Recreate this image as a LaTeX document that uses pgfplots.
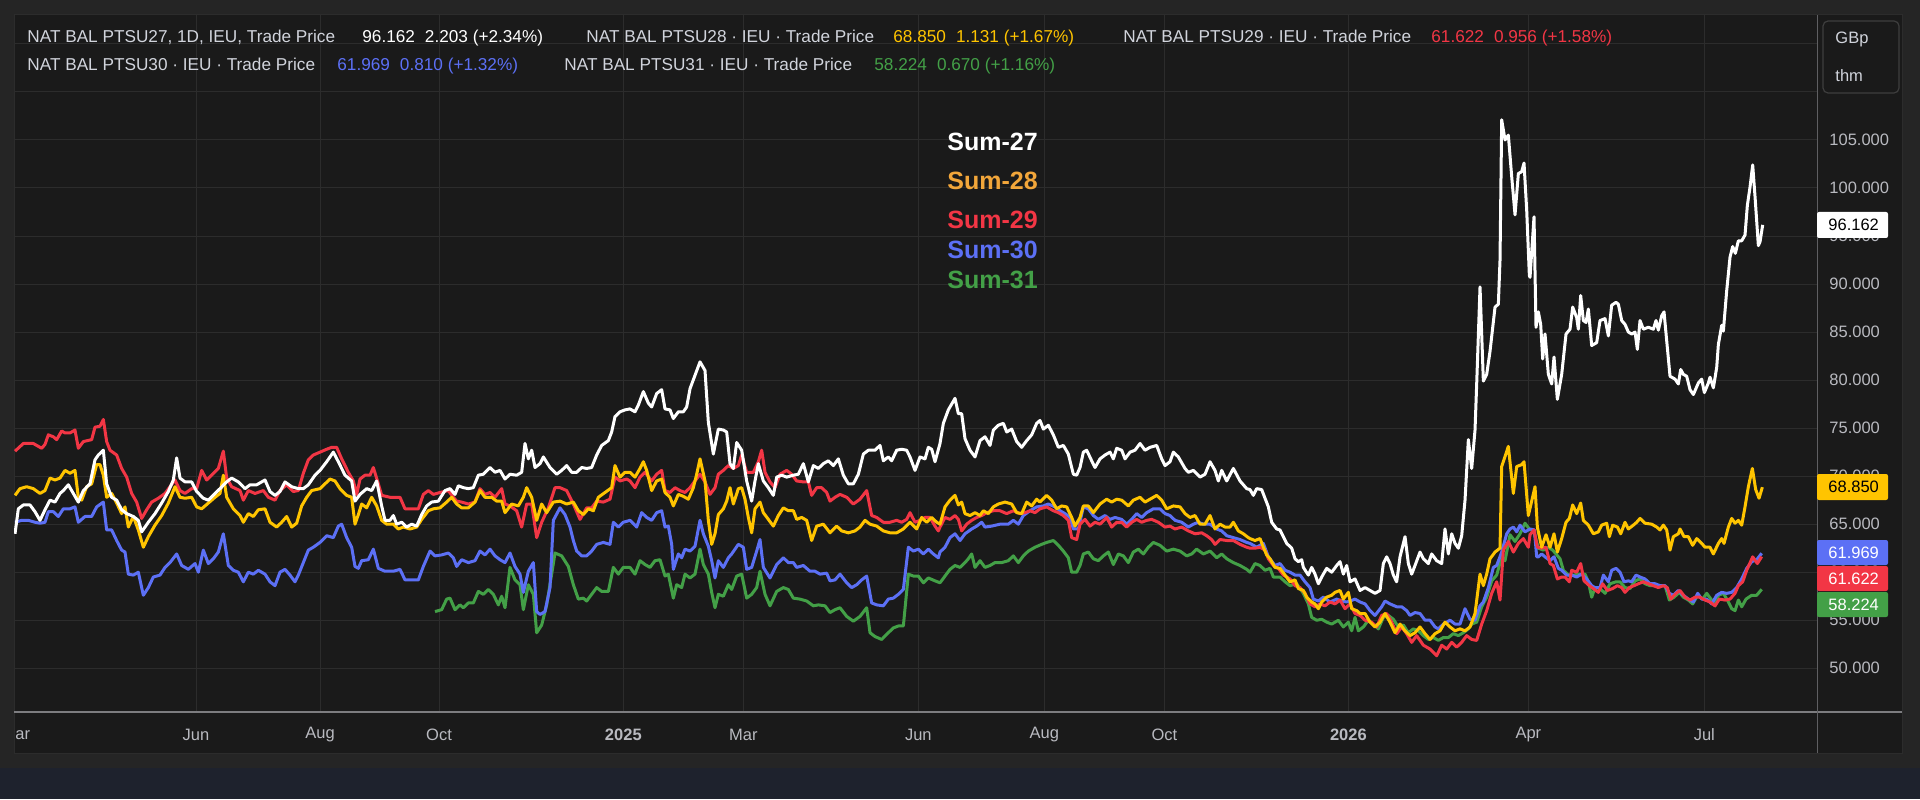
\documentclass[border=0pt]{standalone}
\usepackage{fontspec}
\setmainfont{Liberation Sans}
\usepackage{pgfplots}
\pgfplotsset{compat=1.18}
\definecolor{frame}{RGB}{37,37,37}
\definecolor{panebg}{RGB}{26,26,26}
\definecolor{gridc}{RGB}{44,44,44}
\definecolor{navy}{RGB}{30,34,45}
\definecolor{axisline}{RGB}{125,125,128}
\definecolor{axisv}{RGB}{95,95,98}
\definecolor{ticktext}{RGB}{185,186,192}
\definecolor{hdrtext}{RGB}{209,212,220}
\definecolor{cYellow}{RGB}{255,196,0}
\definecolor{cRed}{RGB}{242,54,69}
\definecolor{cBlue}{RGB}{92,112,245}
\definecolor{cGreen}{RGB}{67,160,71}
\definecolor{cOrange}{RGB}{242,166,58}
\newcommand{\tickfont}{\fontsize{8.25pt}{10pt}\selectfont}
\newcommand{\hdrfont}{\fontsize{8.6pt}{10pt}\selectfont}
\begin{document}
\begin{tikzpicture}
\begin{scope}[x=0.5pt,y=-0.5pt,yshift=399.5pt]
\fill[frame] (0,0) rectangle (1920,799);
\fill[navy] (0,768) rectangle (1920,799);
\fill[panebg] (14,15) rectangle (1902,753);
\draw[gridc, line width=0.5pt] (14,15) rectangle (1902,753);
\end{scope}
\begin{axis}[at={(7pt,44pt)}, anchor=south west, scale only axis,
  width=901.5pt, height=348pt,
  xmin=42, xmax=5451, ymin=45.55, ymax=118.01,
  axis line style={draw=none}, tick style={draw=none}, major tick length=0pt,
  xmajorgrids, ymajorgrids, grid style={gridc, line width=0.5pt},
  scaled x ticks=false, scaled y ticks=false,
  xtick={588,960,1317,1870,2230,2755,3133,3493,4045,4585,5113},
  xticklabels={Jun,Aug,Oct,\textbf{2025},Mar,Jun,Aug,Oct,\textbf{2026},Apr,Jul},
  ytick={50,55,...,115},
  yticklabels={50.000,55.000,60.000,65.000,70.000,75.000,80.000,85.000,90.000,95.000,100.000,105.000,{},{}},
  yticklabel pos=right,
  tick label style={font=\tickfont, text=ticktext},
  xticklabel style={anchor=center, yshift=-12pt},
  yticklabel style={anchor=west, inner sep=0pt, xshift=6pt},
  every axis plot/.append style={line width=1.5pt, line join=round, mark=none},
]
% Sum-31 green
\addplot[color=cGreen] coordinates {
(1305,55.9) (1325,56.1) (1340,57.2) (1350,57.3) (1365,56.1) (1380,56.6) (1390,56.3) (1405,56.8) (1420,56.8) (1435,58.0) (1450,57.7) (1465,58.2) (1480,57.7) (1495,56.6) (1505,57.5) (1515,56.3) (1530,60.5) (1545,59.2) (1560,58.7) (1570,56.1) (1585,58.7) (1600,57.7) (1610,53.7) (1625,54.5) (1640,56.6) (1655,59.8) (1665,62.0) (1685,61.7) (1705,60.6) (1720,58.7) (1735,57.2) (1750,57.3) (1760,57.0) (1775,57.7) (1790,58.4) (1805,58.0) (1825,58.0) (1840,60.5) (1855,59.8) (1870,60.5)
(1890,60.5) (1905,59.8) (1920,61.2) (1935,60.8) (1950,60.5) (1965,61.2) (1980,61.3) (1995,59.6) (2005,59.8) (2020,57.3) (2030,58.7) (2045,58.4) (2055,59.8) (2070,59.4) (2085,59.8) (2100,62.4) (2110,60.8) (2125,59.8) (2135,57.9) (2145,56.3) (2155,57.7) (2170,57.5) (2185,58.7) (2195,58.2) (2210,59.6) (2225,59.8) (2240,57.3) (2255,57.7) (2270,58.4) (2280,60.1) (2295,57.7) (2310,56.5) (2330,58.0) (2350,58.4) (2365,58.2) (2380,57.3) (2400,57.2) (2420,57.0) (2440,56.5) (2455,56.6) (2475,56.5) (2490,55.8) (2505,56.1) (2520,56.3) (2540,55.4) (2560,54.9) (2580,55.4) (2600,56.3) (2610,53.7) (2625,53.3) (2645,53.0) (2665,53.7) (2680,54.2) (2695,54.4) (2710,54.4) (2725,59.8) (2740,59.6) (2755,59.6) (2770,58.9) (2785,59.4) (2805,59.1)
(2820,58.9) (2835,59.6) (2850,60.3) (2865,60.7) (2880,60.5) (2895,61.0) (2905,61.4) (2915,61.9) (2925,60.5) (2940,61.2) (2955,60.5) (2970,60.7) (2985,61.0) (3005,61.0) (3025,61.2) (3040,61.7) (3055,61.0) (3070,61.7) (3085,62.2) (3105,62.6) (3125,62.9) (3140,63.1) (3160,63.3) (3175,62.8) (3190,62.2) (3205,61.5) (3215,60.0) (3230,60.0) (3240,60.7) (3250,61.9) (3265,62.1) (3280,61.4) (3295,61.2) (3310,61.7) (3325,62.1) (3340,60.8) (3355,61.9) (3370,61.7) (3385,61.0) (3400,62.1) (3415,62.4) (3430,61.9) (3445,62.6) (3460,63.1) (3480,62.8) (3500,62.2) (3520,62.4) (3540,62.2) (3560,61.7) (3575,61.9) (3590,62.4) (3610,61.9) (3630,62.2) (3650,61.5) (3665,61.9) (3680,61.4) (3700,61.0) (3720,60.7) (3740,60.3)
(3750,60.0) (3765,60.9) (3780,60.7) (3795,60.2) (3810,60.4) (3820,59.5) (3840,59.5) (3855,59.0) (3870,58.6) (3890,58.8) (3910,57.8) (3925,56.7) (3935,55.3) (3950,55.0) (3965,55.1) (3980,54.8) (3995,54.6) (4015,55.0) (4030,54.3) (4045,54.8) (4055,53.9) (4065,55.3) (4075,53.9) (4090,54.3) (4105,55.0) (4120,54.6) (4135,54.1) (4150,55.3) (4165,55.5) (4180,55.1) (4195,54.3) (4210,54.5) (4225,53.7) (4240,54.1) (4255,53.9) (4270,53.4) (4285,53.0) (4300,53.2) (4315,52.9) (4330,53.2) (4345,53.2) (4360,53.6) (4375,53.4) (4390,53.7) (4405,54.1) (4415,54.6) (4430,54.8) (4445,56.4) (4460,57.4) (4475,59.1) (4490,59.7) (4505,61.6) (4515,61.2) (4530,63.9) (4545,63.2) (4560,64.0) (4575,65.1) (4590,64.4)
(4600,64.4) (4615,62.5) (4630,62.3) (4645,62.6) (4658,62.3) (4668,61.9) (4680,61.4) (4690,60.2) (4705,59.7) (4720,59.7) (4738,59.8) (4755,59.8) (4765,59.0) (4775,57.4) (4785,58.4) (4800,58.3) (4815,57.8) (4830,58.8) (4848,59.0) (4860,59.0) (4875,58.4) (4890,58.3) (4905,59.1) (4920,59.3) (4935,58.8) (4950,58.6) (4965,58.6) (4980,58.6) (4995,58.6) (5008,57.1) (5022,57.4) (5038,57.9) (5050,57.4) (5065,57.1) (5078,56.7) (5093,57.6) (5108,57.2) (5120,57.8) (5135,57.1) (5145,56.5) (5155,57.6) (5170,57.8) (5182,57.1) (5195,56.2) (5205,56.0) (5215,57.1) (5225,56.4) (5238,57.2) (5255,57.6) (5270,57.6) (5285,58.22)
};
% Sum-30 blue
\addplot[color=cBlue] coordinates {
(45,65.2) (65,65.4) (85,65.4) (105,65.2) (120,65.1) (135,65.2) (145,66.3) (160,66.3) (175,65.8) (190,66.6) (210,66.6) (225,66.8) (235,65.2) (255,65.8) (275,65.8) (290,66.8) (310,67.3) (320,64.4) (335,64.4) (350,63.3) (365,62.3) (375,62.1) (385,59.8) (400,59.7) (415,60.0) (430,57.6) (445,58.4) (460,59.5) (480,59.7) (495,60.5) (510,61.0) (530,61.9) (545,60.7) (565,60.3) (585,60.9) (595,60.0) (610,62.3) (625,60.9) (640,61.4) (655,62.1) (670,64.0) (685,60.7) (700,60.2) (715,60.0) (730,59.0) (745,60.0) (760,59.8) (775,60.2) (795,59.8) (810,59.0) (825,58.6) (840,60.0) (855,60.3) (870,59.7) (885,59.0) (895,59.7) (910,61.0) (925,62.3) (940,62.6)
(960,63.1) (980,63.8) (1000,63.6) (1015,64.8) (1025,65.0) (1040,63.6) (1055,62.6) (1065,60.6) (1075,60.4) (1085,61.2) (1105,61.3) (1120,62.4) (1135,60.4) (1155,60.1) (1180,60.1) (1200,60.3) (1215,59.2) (1235,59.2) (1255,59.2) (1270,60.6) (1290,62.2) (1305,61.7) (1325,61.8) (1345,62.0) (1360,61.5) (1370,60.6) (1385,61.3) (1405,61.0) (1425,61.2) (1440,62.2) (1455,61.8) (1470,62.4) (1485,61.7) (1500,61.3) (1515,61.0) (1530,62.0) (1545,60.6) (1560,59.8) (1570,57.9) (1585,60.1) (1600,61.0) (1610,55.9) (1620,55.6) (1635,55.9) (1650,58.4) (1660,65.4) (1680,66.7) (1695,66.0) (1710,64.7) (1720,63.3) (1730,62.2) (1745,61.7) (1760,61.7) (1775,62.2) (1790,62.9) (1810,63.1) (1830,62.9) (1840,65.2) (1855,64.7) (1870,65.2)
(1890,65.4) (1910,64.7) (1925,66.2) (1940,65.7) (1955,65.4) (1970,66.2) (1985,66.4) (1995,64.7) (2005,64.8) (2015,62.9) (2020,60.3) (2035,61.9) (2045,61.5) (2055,62.4) (2070,62.2) (2085,62.7) (2100,65.4) (2110,64.0) (2125,62.7) (2135,61.2) (2145,59.4) (2155,61.2) (2170,60.5) (2185,61.5) (2195,61.9) (2215,62.9) (2230,62.6) (2240,60.3) (2255,60.5) (2270,62.2) (2280,63.4) (2290,60.5) (2310,59.4) (2330,60.8) (2350,61.5) (2365,61.0) (2380,61.0) (2390,60.5) (2410,60.7) (2430,60.1) (2445,60.1) (2460,59.8) (2480,59.9) (2490,59.1) (2505,59.2) (2520,59.8) (2540,58.9) (2555,58.4) (2570,58.7) (2585,59.2) (2600,59.6) (2615,56.8) (2630,56.6) (2650,56.5) (2665,57.2) (2680,57.3) (2695,57.7) (2710,58.2) (2725,62.6) (2740,62.2) (2755,62.4) (2770,61.9) (2785,62.4) (2800,61.9) (2815,61.5)
(2820,62.1) (2835,62.6) (2850,63.6) (2865,64.0) (2880,63.3) (2895,64.0) (2915,64.5) (2930,64.8) (2945,65.2) (2955,64.7) (2975,64.8) (3000,65.0) (3025,65.0) (3040,65.4) (3055,65.0) (3070,65.9) (3090,66.4) (3110,66.8) (3130,66.9) (3145,67.1) (3165,66.8) (3180,66.4) (3195,66.1) (3210,65.7) (3220,64.5) (3235,64.5) (3250,66.8) (3265,66.6) (3280,65.9) (3295,65.5) (3315,65.9) (3330,65.5) (3345,65.7) (3365,65.5) (3380,65.0) (3395,65.5) (3410,66.1) (3425,65.7) (3440,66.2) (3460,66.6) (3480,66.6) (3495,66.1) (3510,65.9) (3525,65.4) (3545,65.2) (3565,64.7) (3580,65.0) (3595,65.2) (3610,65.0) (3630,65.0) (3650,64.5) (3665,64.3) (3680,63.8) (3700,63.6) (3720,63.4) (3740,63.1)
(3750,63.0) (3770,62.6) (3790,63.0) (3805,61.6) (3825,60.7) (3840,60.9) (3855,60.2) (3870,60.0) (3885,59.7) (3900,59.7) (3915,59.0) (3930,58.4) (3940,57.2) (3955,57.0) (3970,57.4) (3990,56.9) (4010,57.2) (4025,57.0) (4040,56.9) (4050,57.0) (4065,57.2) (4080,56.9) (4095,56.7) (4110,56.0) (4125,55.5) (4145,56.4) (4155,57.0) (4170,56.7) (4190,56.4) (4205,56.4) (4220,56.0) (4230,55.5) (4245,55.8) (4260,55.7) (4275,55.0) (4290,55.0) (4305,54.3) (4315,54.1) (4330,54.6) (4350,55.0) (4365,54.6) (4380,54.6) (4395,56.2) (4410,55.1) (4425,55.0) (4440,56.5) (4450,56.9) (4465,58.4) (4480,60.5) (4490,60.7) (4505,62.1) (4520,64.0) (4530,64.5) (4540,64.7) (4550,64.2) (4560,64.9) (4575,64.2) (4590,64.5) (4603,64.4) (4610,61.6)
(4615,61.6) (4625,61.9) (4635,61.6) (4650,61.2) (4662,61.6) (4675,60.4) (4685,60.2) (4700,59.7) (4715,59.7) (4730,59.5) (4745,59.8) (4760,59.3) (4775,58.6) (4785,58.4) (4800,58.4) (4810,59.7) (4825,59.0) (4835,60.2) (4848,60.4) (4860,60.0) (4872,59.0) (4885,59.1) (4895,59.0) (4908,59.7) (4920,59.5) (4935,59.3) (4950,58.8) (4965,58.8) (4980,58.6) (4995,58.6) (5008,57.8) (5020,57.6) (5035,58.1) (5050,57.6) (5065,57.2) (5080,56.9) (5093,57.8) (5105,57.2) (5120,57.2) (5135,56.7) (5150,57.6) (5165,57.9) (5180,57.8) (5195,57.9) (5210,58.4) (5225,59.3) (5240,60.4) (5255,61.1) (5270,61.3) (5285,61.97)
};
% Sum-29 red
\addplot[color=cRed] coordinates {
(45,72.6) (70,73.4) (100,73.4) (125,72.9) (135,73.3) (145,74.3) (160,74.1) (170,73.8) (185,74.7) (195,74.5) (210,74.5) (225,74.8) (235,72.9) (250,73.6) (275,73.8) (285,75.1) (300,75.2) (310,75.9) (320,73.6) (330,72.7) (350,72.2) (365,70.8) (380,69.9) (395,68.2) (410,67.3) (425,65.6) (440,66.5) (455,67.3) (475,67.7) (495,68.2) (510,68.9) (525,69.6) (540,68.5) (555,68.2) (575,68.7) (590,68.7) (605,70.6) (620,69.6) (635,70.1) (655,70.8) (670,72.6) (680,69.8) (695,68.9) (720,68.5) (730,67.5) (745,68.5) (765,68.2) (790,68.5) (805,67.8) (825,67.5) (840,68.5) (860,69.1) (880,68.4) (895,68.5) (910,70.3) (925,71.7) (940,72.2)
(960,72.5) (980,72.8) (995,73.0) (1010,73.0) (1025,71.8) (1045,70.4) (1060,69.5) (1070,68.1) (1080,69.7) (1095,70.1) (1110,70.1) (1120,70.9) (1135,69.2) (1145,68.0) (1170,67.8) (1200,67.8) (1215,66.6) (1230,66.6) (1255,66.6) (1270,68.1) (1285,68.5) (1300,68.1) (1320,68.3) (1345,68.5) (1360,67.8) (1370,67.4) (1385,67.3) (1405,67.1) (1425,67.3) (1440,68.7) (1455,68.1) (1470,68.3) (1485,67.8) (1505,68.7) (1515,67.1) (1530,66.9) (1550,66.4) (1565,64.7) (1580,67.1) (1595,67.1) (1610,63.6) (1625,65.2) (1645,66.7) (1665,68.8) (1680,68.8) (1700,68.5) (1720,67.1) (1740,65.5) (1760,66.7) (1775,66.7) (1790,67.4) (1810,67.3) (1830,67.6) (1845,69.9) (1860,69.5) (1880,69.7)
(1890,69.5) (1905,68.8) (1920,69.9) (1935,70.4) (1955,69.5) (1970,70.2) (1985,70.6) (1995,68.5) (2010,68.3) (2025,68.8) (2040,68.5) (2055,68.3) (2070,68.8) (2085,69.5) (2100,70.2) (2115,69.4) (2130,68.1) (2145,68.8) (2155,70.2) (2170,70.6) (2185,71.1) (2200,70.8) (2215,71.1) (2225,72.2) (2240,70.4) (2260,70.4) (2275,71.5) (2285,72.7) (2295,70.4) (2310,69.4) (2325,68.8) (2340,70.2) (2360,70.6) (2375,70.2) (2390,69.5) (2410,69.4) (2425,69.4) (2435,68.0) (2450,68.8) (2465,68.8) (2480,68.3) (2490,67.4) (2505,67.8) (2520,68.1) (2540,67.8) (2560,67.1) (2580,67.6) (2600,68.5) (2615,65.9) (2630,65.7) (2650,65.2) (2670,65.2) (2690,65.4) (2705,65.2) (2720,65.5) (2730,66.2) (2745,65.2) (2760,65.4) (2775,65.7) (2790,65.7) (2805,64.8) (2815,64.3)
(2820,64.7) (2835,65.7) (2850,65.5) (2865,65.9) (2875,65.5) (2885,64.3) (2900,65.0) (2915,65.4) (2930,65.7) (2945,65.9) (2960,66.2) (2980,66.4) (3000,66.4) (3020,66.1) (3040,66.4) (3060,66.1) (3075,66.2) (3090,66.4) (3105,66.2) (3120,66.6) (3140,66.8) (3160,66.4) (3175,66.2) (3190,65.9) (3205,65.4) (3215,63.6) (3230,63.4) (3240,65.0) (3255,65.5) (3270,64.8) (3285,65.2) (3300,65.0) (3320,65.7) (3335,64.7) (3350,65.2) (3365,65.2) (3380,64.7) (3395,65.2) (3410,65.5) (3425,65.2) (3440,65.4) (3455,65.5) (3475,65.2) (3495,64.7) (3510,64.8) (3525,64.5) (3545,64.7) (3565,64.3) (3585,64.0) (3605,64.1) (3620,63.8) (3635,63.4) (3645,62.9) (3660,63.4) (3680,63.3) (3700,63.3) (3720,62.9) (3740,62.6)
(3750,62.5) (3765,62.5) (3780,62.6) (3795,62.3) (3805,61.4) (3820,60.7) (3835,60.4) (3850,59.7) (3870,59.3) (3885,58.6) (3900,58.4) (3915,57.8) (3930,56.7) (3945,56.4) (3960,56.7) (3975,56.5) (3990,56.9) (4005,56.7) (4020,57.1) (4035,56.2) (4050,56.7) (4065,55.7) (4080,55.5) (4095,55.0) (4115,54.8) (4130,54.3) (4145,55.5) (4160,55.7) (4175,54.8) (4190,53.6) (4205,54.3) (4220,53.6) (4235,52.7) (4250,53.4) (4270,52.4) (4290,52.0) (4310,51.3) (4325,52.4) (4340,52.0) (4355,52.7) (4370,52.2) (4385,52.7) (4400,53.4) (4415,53.0) (4430,52.9) (4445,54.6) (4460,56.0) (4475,57.8) (4490,59.0) (4500,57.1) (4510,62.3) (4525,63.2) (4540,62.1) (4555,63.0) (4570,63.5) (4585,62.6)
(4590,63.9) (4602,64.4) (4612,62.6) (4625,62.5) (4638,62.6) (4650,60.9) (4660,60.7) (4672,59.3) (4685,59.5) (4695,59.5) (4708,59.0) (4715,60.2) (4730,60.0) (4742,60.9) (4752,59.1) (4768,58.6) (4780,58.3) (4795,57.9) (4808,58.8) (4822,58.1) (4838,58.3) (4852,58.6) (4865,58.4) (4875,57.9) (4888,58.4) (4902,58.6) (4915,58.8) (4930,59.0) (4945,58.8) (4960,58.6) (4975,58.4) (4990,58.6) (5002,58.4) (5012,57.2) (5028,57.8) (5040,58.1) (5055,57.4) (5070,57.1) (5085,57.4) (5100,57.4) (5115,57.1) (5130,56.9) (5145,56.5) (5158,57.2) (5175,57.1) (5190,57.2) (5205,57.8) (5215,58.6) (5228,59.0) (5240,60.2) (5258,61.6) (5272,60.9) (5285,61.62)
};
% Sum-28 yellow
\addplot[color=cYellow] coordinates {
(45,68.0) (60,68.7) (80,68.9) (100,68.7) (120,68.2) (135,68.5) (150,69.8) (165,69.6) (180,69.8) (195,70.6) (210,70.3) (225,70.6) (235,67.8) (245,67.5) (260,68.9) (275,69.2) (290,71.2) (300,71.2) (310,70.1) (320,67.8) (335,68.2) (350,67.2) (365,66.1) (375,66.8) (385,64.7) (400,65.8) (415,64.4) (430,62.6) (445,63.7) (465,64.9) (485,65.9) (505,67.2) (525,68.9) (540,67.8) (555,67.7) (575,67.8) (590,66.8) (605,66.6) (625,67.2) (645,67.8) (660,68.2) (670,70.1) (680,67.8) (700,66.6) (720,65.9) (730,65.2) (745,66.1) (760,65.8) (775,66.5) (795,66.6) (810,65.2) (830,64.7) (845,65.2) (860,65.8) (875,64.7) (890,65.1) (905,66.9) (920,67.8) (935,68.5)
(960,68.7) (975,69.2) (990,69.7) (1005,69.5) (1020,68.7) (1040,68.0) (1055,67.8) (1065,65.0) (1075,66.0) (1085,67.1) (1100,66.7) (1115,67.8) (1130,66.9) (1145,65.4) (1160,65.0) (1180,65.0) (1195,64.5) (1210,64.7) (1230,64.5) (1250,64.7) (1265,65.5) (1285,66.4) (1300,66.6) (1320,66.7) (1340,67.3) (1355,67.8) (1370,67.1) (1385,66.7) (1405,66.7) (1425,67.3) (1440,68.5) (1455,67.8) (1475,67.8) (1490,67.4) (1505,67.4) (1515,66.2) (1535,67.1) (1555,66.9) (1570,67.8) (1580,68.8) (1595,67.8) (1610,65.4) (1625,67.1) (1640,66.2) (1660,67.3) (1680,67.4) (1700,67.1) (1720,67.3) (1735,66.4) (1750,66.0) (1765,66.6) (1780,66.4) (1795,67.8) (1815,68.3) (1835,68.8) (1845,71.1) (1860,69.9) (1875,70.4)
(1890,70.4) (1905,69.9) (1920,70.8) (1930,71.5) (1940,70.6) (1955,68.5) (1970,69.5) (1985,69.7) (1995,68.3) (2010,67.8) (2020,66.9) (2035,68.1) (2050,67.9) (2065,67.6) (2080,68.8) (2090,70.2) (2100,71.8) (2115,69.5) (2125,65.4) (2135,62.9) (2145,64.0) (2155,66.0) (2170,66.6) (2180,67.4) (2190,68.8) (2200,67.1) (2215,68.7) (2225,68.8) (2235,67.6) (2245,65.7) (2255,64.1) (2265,66.6) (2280,67.3) (2290,66.2) (2305,65.5) (2320,64.8) (2335,65.9) (2350,66.7) (2365,66.4) (2380,66.4) (2390,65.5) (2405,65.7) (2420,65.4) (2435,63.3) (2450,64.8) (2470,65.0) (2490,64.1) (2510,64.8) (2525,64.3) (2545,64.1) (2565,64.3) (2580,64.7) (2595,65.4) (2610,65.0) (2630,64.8) (2650,64.3) (2670,64.1) (2690,64.1) (2710,64.5) (2730,65.2) (2750,64.5) (2765,65.7) (2780,65.2) (2795,65.7) (2810,65.2)
(2820,65.0) (2835,66.8) (2850,67.5) (2865,68.0) (2875,67.0) (2885,67.3) (2895,66.1) (2910,65.9) (2925,66.2) (2940,65.9) (2950,66.4) (2965,66.1) (2980,66.8) (2995,67.1) (3015,67.3) (3035,67.1) (3050,66.2) (3065,66.1) (3080,67.3) (3095,66.9) (3110,67.6) (3120,67.3) (3140,68.0) (3155,67.5) (3170,66.6) (3185,66.9) (3200,66.8) (3215,65.7) (3225,64.8) (3240,65.7) (3250,66.9) (3265,66.9) (3280,66.2) (3300,67.1) (3320,67.6) (3335,67.3) (3350,67.6) (3365,67.5) (3385,66.9) (3400,67.5) (3420,67.8) (3435,67.3) (3450,67.6) (3470,68.0) (3485,67.5) (3500,66.6) (3520,66.9) (3540,66.8) (3555,66.1) (3570,65.7) (3585,65.9) (3600,65.0) (3615,65.0) (3630,65.9) (3645,64.5) (3660,65.0) (3675,64.7) (3690,64.7) (3700,65.2) (3715,64.3) (3730,64.0) (3745,63.6)
(3750,63.5) (3765,63.3) (3780,63.5) (3790,62.6) (3800,61.8) (3810,61.4) (3825,60.5) (3840,60.4) (3855,59.7) (3870,59.0) (3885,59.2) (3895,58.3) (3910,58.1) (3920,57.4) (3935,56.9) (3945,56.7) (3955,56.2) (3965,56.9) (3980,57.4) (3995,57.6) (4005,57.9) (4020,58.1) (4030,57.2) (4045,57.9) (4055,56.2) (4070,56.0) (4080,55.7) (4095,55.7) (4110,54.8) (4125,54.3) (4140,54.8) (4155,55.7) (4170,54.8) (4185,53.7) (4200,54.6) (4215,53.9) (4230,53.4) (4245,53.7) (4260,54.3) (4275,53.6) (4290,53.0) (4305,53.6) (4320,53.9) (4335,54.8) (4350,54.3) (4365,53.9) (4380,54.1) (4395,53.9) (4410,54.3) (4425,55.7) (4440,59.8) (4450,58.6) (4460,59.8) (4470,61.4) (4485,62.1) (4500,62.5) (4505,71.0) (4525,73.1) (4540,68.2) (4550,71.0) (4565,71.2) (4572,71.5) (4585,65.9)
(4605,68.9) (4612,64.7) (4625,62.6) (4638,63.9) (4650,62.6) (4662,64.0) (4672,62.1) (4685,63.5) (4698,65.2) (4708,65.6) (4718,67.0) (4730,66.1) (4742,67.2) (4750,65.4) (4765,64.9) (4780,64.0) (4795,64.2) (4805,64.9) (4820,65.1) (4828,63.7) (4838,64.9) (4852,64.7) (4862,64.0) (4875,65.2) (4885,64.5) (4900,64.9) (4910,65.2) (4920,65.6) (4935,65.1) (4955,65.0) (4970,64.7) (4980,64.4) (4990,64.9) (5000,64.4) (5010,62.3) (5020,63.7) (5035,64.0) (5040,64.5) (5052,63.7) (5065,63.7) (5078,62.8) (5090,63.5) (5105,63.0) (5115,62.6) (5130,62.6) (5140,61.9) (5155,63.0) (5165,63.5) (5172,63.0) (5185,64.7) (5195,65.6) (5205,65.1) (5215,65.4) (5225,64.9) (5235,66.8) (5245,68.9) (5257,70.8) (5267,68.6) (5277,67.7) (5287,68.85)
};
% Sum-27 white
\addplot[color=white] coordinates {
(45,64.0) (55,66.6) (70,67.0) (90,67.0) (105,66.3) (120,65.4) (135,66.5) (150,67.5) (165,67.3) (180,68.2) (190,68.5) (205,69.1) (220,68.2) (235,67.3) (250,68.5) (270,69.2) (285,71.7) (295,72.2) (310,72.7) (320,69.2) (335,67.8) (350,67.5) (365,66.5) (380,66.1) (400,65.8) (415,65.4) (425,64.2) (445,65.2) (465,66.1) (485,67.2) (505,68.4) (520,69.6) (530,71.9) (540,69.8) (555,69.4) (575,69.4) (590,68.4) (610,67.7) (625,67.5) (645,68.2) (660,68.7) (680,69.4) (695,69.8) (715,69.4) (735,68.7) (750,69.1) (770,69.1) (795,69.6) (810,68.4) (825,68.0) (840,68.4) (855,69.4) (875,68.9) (895,68.7) (910,68.7) (925,69.1) (945,70.1)
(960,70.6) (980,71.5) (1000,72.5) (1015,71.5) (1035,70.1) (1055,69.5) (1065,67.4) (1080,68.1) (1100,68.7) (1115,68.5) (1130,69.5) (1145,66.9) (1155,65.4) (1170,65.4) (1180,65.9) (1190,65.0) (1205,65.2) (1220,64.7) (1235,65.0) (1250,64.8) (1265,66.0) (1280,66.9) (1295,67.3) (1315,67.4) (1335,68.5) (1350,68.7) (1365,68.1) (1375,69.0) (1390,68.8) (1405,68.7) (1420,68.8) (1435,70.1) (1450,70.2) (1470,70.9) (1485,70.4) (1500,70.6) (1515,69.7) (1530,70.2) (1550,70.1) (1565,70.4) (1575,73.4) (1585,71.8) (1595,72.7) (1605,70.9) (1620,71.3) (1630,72.0) (1650,70.9) (1670,70.2) (1685,70.6) (1700,71.1) (1715,70.4) (1730,70.4) (1745,70.9) (1760,70.8) (1775,70.9) (1790,72.2) (1805,73.2) (1825,73.7) (1835,74.6) (1845,76.2) (1860,76.7) (1875,76.9)
(1890,77.0) (1905,76.7) (1915,77.4) (1930,78.8) (1945,77.6) (1955,77.2) (1970,78.6) (1985,79.0) (1995,77.0) (2010,76.9) (2020,76.0) (2035,76.7) (2050,76.7) (2060,77.2) (2070,79.1) (2085,80.5) (2100,81.9) (2115,81.0) (2125,75.6) (2140,72.3) (2155,74.9) (2170,74.8) (2180,74.6) (2190,71.3) (2200,70.8) (2210,73.5) (2225,72.7) (2240,69.5) (2255,67.4) (2265,69.5) (2275,71.3) (2290,69.5) (2305,68.8) (2320,68.0) (2330,69.9) (2345,70.1) (2360,69.9) (2380,70.1) (2395,70.2) (2410,71.3) (2425,69.4) (2440,71.1) (2455,70.8) (2470,71.3) (2485,71.6) (2500,71.1) (2515,71.8) (2530,70.1) (2545,69.2) (2560,69.2) (2575,70.2) (2590,72.3) (2605,72.7) (2625,72.7) (2640,73.2) (2650,71.6) (2665,72.0) (2675,71.6) (2690,72.7) (2705,72.8) (2720,72.7) (2730,72.0) (2745,70.6) (2760,72.0) (2775,71.8) (2785,73.0) (2795,72.8) (2805,71.5) (2820,73.4)
(2830,75.5) (2845,76.9) (2865,78.1) (2875,76.5) (2885,76.5) (2895,73.9) (2910,72.7) (2925,72.0) (2940,73.7) (2955,74.1) (2970,73.2) (2980,74.8) (2995,75.3) (3010,75.5) (3020,74.6) (3035,74.9) (3050,73.6) (3065,73.0) (3080,73.7) (3095,74.3) (3110,75.5) (3120,75.8) (3130,74.9) (3145,75.3) (3160,74.3) (3175,73.0) (3190,73.2) (3205,72.3) (3220,70.2) (3230,70.1) (3240,70.9) (3250,72.5) (3260,72.7) (3275,71.6) (3285,70.9) (3300,71.8) (3315,72.2) (3330,72.5) (3340,71.8) (3350,72.9) (3365,72.7) (3375,71.8) (3390,72.5) (3405,72.7) (3420,73.4) (3435,72.7) (3450,73.0) (3470,73.2) (3485,71.8) (3495,71.1) (3510,71.5) (3520,72.5) (3535,72.0) (3555,70.8) (3565,70.4) (3580,70.6) (3600,69.9) (3615,70.2) (3630,71.5) (3645,70.6) (3655,69.5) (3665,70.6) (3680,69.5) (3700,70.8) (3720,69.5) (3740,68.7)
(3750,68.6) (3760,68.0) (3770,68.7) (3785,68.6) (3795,67.7) (3805,66.8) (3815,65.2) (3830,64.5) (3840,64.4) (3850,63.7) (3860,63.0) (3875,62.5) (3885,61.4) (3895,61.1) (3905,61.3) (3910,60.5) (3925,59.7) (3935,60.5) (3945,59.8) (3955,58.8) (3965,59.5) (3980,60.4) (3995,60.0) (4010,60.7) (4020,61.1) (4030,59.8) (4040,60.7) (4050,59.0) (4065,59.3) (4080,58.1) (4095,58.4) (4110,58.1) (4125,57.8) (4140,58.1) (4150,60.9) (4160,61.6) (4170,60.9) (4180,59.7) (4190,59.0) (4200,61.6) (4215,63.7) (4225,60.9) (4235,59.8) (4245,60.7) (4260,62.1) (4270,61.4) (4285,60.9) (4295,61.9) (4310,61.2) (4325,60.9) (4335,64.5) (4345,61.9) (4355,64.0) (4365,63.0) (4375,62.5) (4385,63.8) (4395,67.5) (4405,73.8) (4415,70.8) (4425,74.8)
(4430,79.6) (4440,89.7) (4450,79.9) (4460,80.6) (4470,83.0) (4485,87.6) (4495,87.9) (4500,92.5) (4505,107.1) (4515,105.0) (4525,105.5) (4535,101.2) (4545,97.2) (4555,101.5) (4565,101.7) (4572,102.6) (4580,97.7) (4588,90.9)
(4590,90.7) (4602,97.0) (4608,85.5) (4615,87.1) (4622,85.8) (4628,82.2) (4635,84.8) (4645,80.6) (4655,79.6) (4662,82.4) (4672,78.0) (4685,80.6) (4698,84.8) (4710,85.3) (4718,87.6) (4730,86.5) (4735,85.3) (4742,88.8) (4750,86.2) (4758,86.0) (4765,87.4) (4775,83.6) (4790,83.9) (4800,86.2) (4815,86.4) (4825,84.6) (4835,87.8) (4848,88.1) (4855,87.9) (4865,86.2) (4875,85.8) (4885,85.0) (4895,84.8) (4905,85.0) (4912,83.2) (4920,86.2) (4930,85.3) (4945,85.5) (4960,85.3) (4968,86.2) (4975,85.2) (4985,86.7) (4992,87.1) (5000,84.1) (5010,80.4) (5025,80.1) (5035,79.6) (5042,81.1) (5050,80.6) (5060,80.4) (5070,79.0) (5080,78.5) (5095,79.7) (5105,80.1) (5113,78.7) (5125,79.7) (5130,80.3) (5140,79.2) (5150,81.3) (5155,83.7) (5165,85.7) (5170,85.1) (5180,89.3) (5190,92.8) (5198,93.9) (5206,93.2) (5215,94.5) (5225,94.5) (5235,95.1) (5242,98.2) (5250,100.1) (5258,102.4) (5265,99.1) (5275,94.0) (5280,94.4) (5288,96.16)
};
\end{axis}
\begin{scope}[x=0.5pt,y=-0.5pt,yshift=399.5pt]
% axis lines
\draw[axisline, line width=1pt] (14,711.5) -- (1902,711.5);
\draw[axisv, line width=0.5pt] (1817,15) -- (1817,753);
% clipped first x label
\node[anchor=west, inner sep=0pt, text=ticktext, font=\tickfont] at (15,735) {ar};
% price tags
\fill[white, rounded corners=1pt] (1817,212) rectangle (1888,238);
\node[anchor=west, inner sep=0pt, text=black, font=\tickfont] at (1828,225) {96.162};
\fill[cYellow, rounded corners=1pt] (1817,474) rectangle (1888,500);
\node[anchor=west, inner sep=0pt, text=black, font=\tickfont] at (1828,487) {68.850};
\fill[cBlue, rounded corners=1pt] (1817,540) rectangle (1888,565);
\node[anchor=west, inner sep=0pt, text=white, font=\tickfont] at (1828,552.5) {61.969};
\fill[cRed, rounded corners=1pt] (1817,566) rectangle (1888,591);
\node[anchor=west, inner sep=0pt, text=white, font=\tickfont] at (1828,578.5) {61.622};
\fill[cGreen, rounded corners=1pt] (1817,592) rectangle (1888,617);
\node[anchor=west, inner sep=0pt, text=white, font=\tickfont] at (1828,604.5) {58.224};
% unit button
\draw[draw={rgb,255:red,62;green,62;blue,62}, fill=panebg, rounded corners=2.5pt, line width=0.6pt] (1823,21) rectangle (1899,93);
\node[anchor=west, inner sep=0pt, text=hdrtext, font=\tickfont] at (1835,39) {GBp};
\node[anchor=west, inner sep=0pt, text=hdrtext, font=\tickfont] at (1835,76) {thm};
% header row 1
\node[anchor=base west, inner sep=0pt, text=hdrtext, font=\hdrfont] at (27,43) {NAT BAL PTSU27, 1D, IEU, Trade Price};
\node[anchor=base west, inner sep=0pt, text=white, font=\hdrfont] at (362,43) {96.162\hspace{5pt}2.203 (+2.34\%)};
\node[anchor=base west, inner sep=0pt, text=hdrtext, font=\hdrfont] at (586,43) {NAT BAL PTSU28 · IEU · Trade Price};
\node[anchor=base west, inner sep=0pt, text=cYellow, font=\hdrfont] at (893,43) {68.850\hspace{5pt}1.131 (+1.67\%)};
\node[anchor=base west, inner sep=0pt, text=hdrtext, font=\hdrfont] at (1123,43) {NAT BAL PTSU29 · IEU · Trade Price};
\node[anchor=base west, inner sep=0pt, text=cRed, font=\hdrfont] at (1431,43) {61.622\hspace{5pt}0.956 (+1.58\%)};
% header row 2
\node[anchor=base west, inner sep=0pt, text=hdrtext, font=\hdrfont] at (27,71) {NAT BAL PTSU30 · IEU · Trade Price};
\node[anchor=base west, inner sep=0pt, text=cBlue, font=\hdrfont] at (337,71) {61.969\hspace{5pt}0.810 (+1.32\%)};
\node[anchor=base west, inner sep=0pt, text=hdrtext, font=\hdrfont] at (564,71) {NAT BAL PTSU31 · IEU · Trade Price};
\node[anchor=base west, inner sep=0pt, text=cGreen, font=\hdrfont] at (874,71) {58.224\hspace{5pt}0.670 (+1.16\%)};
% in-chart legend
\node[anchor=west, inner sep=0pt, text=white, font=\bfseries\fontsize{12.5pt}{14pt}\selectfont] at (947,142) {Sum-27};
\node[anchor=west, inner sep=0pt, text=cOrange, font=\bfseries\fontsize{12.5pt}{14pt}\selectfont] at (947,181) {Sum-28};
\node[anchor=west, inner sep=0pt, text=cRed, font=\bfseries\fontsize{12.5pt}{14pt}\selectfont] at (947,220) {Sum-29};
\node[anchor=west, inner sep=0pt, text=cBlue, font=\bfseries\fontsize{12.5pt}{14pt}\selectfont] at (947,250) {Sum-30};
\node[anchor=west, inner sep=0pt, text=cGreen, font=\bfseries\fontsize{12.5pt}{14pt}\selectfont] at (947,280) {Sum-31};
\end{scope}
\pgfresetboundingbox
\path[use as bounding box] (0,0) rectangle (960pt,399.5pt);
\end{tikzpicture}
\end{document}
